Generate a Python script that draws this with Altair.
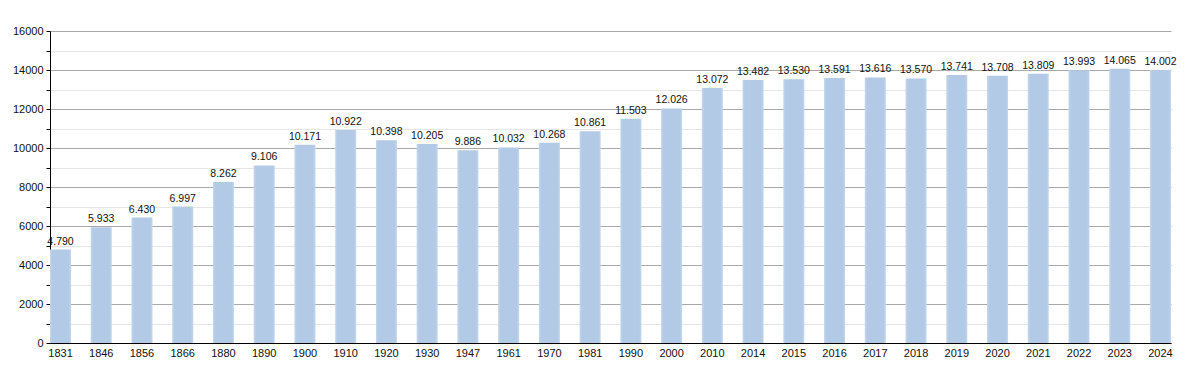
import altair as alt
import pandas as pd

years = ["1831", "1846", "1856", "1866", "1880", "1890", "1900", "1910", "1920", "1930",
         "1947", "1961", "1970", "1981", "1990", "2000", "2010", "2014", "2015", "2016",
         "2017", "2018", "2019", "2020", "2021", "2022", "2023", "2024"]
population = [4790, 5933, 6430, 6997, 8262, 9106, 10171, 10922, 10398, 10205,
              9886, 10032, 10268, 10861, 11503, 12026, 13072, 13482, 13530, 13591,
              13616, 13570, 13741, 13708, 13809, 13993, 14065, 14002]
tick_values = list(range(0, 16001, 1000))

df = pd.DataFrame({"year": years, "pop": population})

FONT = "Liberation Sans"

x = alt.X("year:N", sort=None, title=None,
          scale=alt.Scale(paddingInner=0.484, paddingOuter=0),
          axis=alt.Axis(labelAngle=0, ticks=False, domainColor="#000", labelColor="#111",
                        labelFontSize=11, labelFont=FONT, labelPadding=4))
y = alt.Y("pop:Q", title=None,
          scale=alt.Scale(domain=[0, 16000], nice=False),
          axis=alt.Axis(values=tick_values, tickCount=40, format="d", labelOverlap=False,
                        labelExpr="datum.value % 2000 === 0 ? datum.value : ''",
                        domainColor="#000", tickColor="#000", tickSize=4,
                        labelColor="#111", labelFontSize=11, labelFont=FONT, labelPadding=3,
                        gridColor={"condition": {"test": "datum.value % 2000 === 0", "value": "#a9a9a9"},
                                   "value": "#e6e6e6"}))

grad = alt.Gradient(gradient="linear", x1=0, x2=1, y1=0, y2=0,
                    stops=[alt.GradientStop(offset=0, color="#c4d6ec"),
                           alt.GradientStop(offset=0.12, color="#b2cae5"),
                           alt.GradientStop(offset=0.88, color="#b2cae5"),
                           alt.GradientStop(offset=1, color="#c4d6ec")])

bars = alt.Chart(df).mark_bar(fill=grad).encode(x=x, y=y)

labels = alt.Chart(df).transform_calculate(
    lbl="replace(format(datum.pop, ','), ',', '.')"
).mark_text(baseline="bottom", dy=-3, fontSize=10.5, font=FONT, color="#111").encode(
    x=alt.X("year:N", sort=None), y=alt.Y("pop:Q"), text="lbl:N")

chart = (bars + labels).properties(
    width=1121, height=312,
    autosize=alt.AutoSizeParams(type="none"),
    padding={"left": 42, "top": 23, "right": 10, "bottom": 22},
).configure_view(stroke=None).configure_axis(gridWidth=1)

chart.save("out.html", embed_options={"renderer": "svg", "actions": False})
